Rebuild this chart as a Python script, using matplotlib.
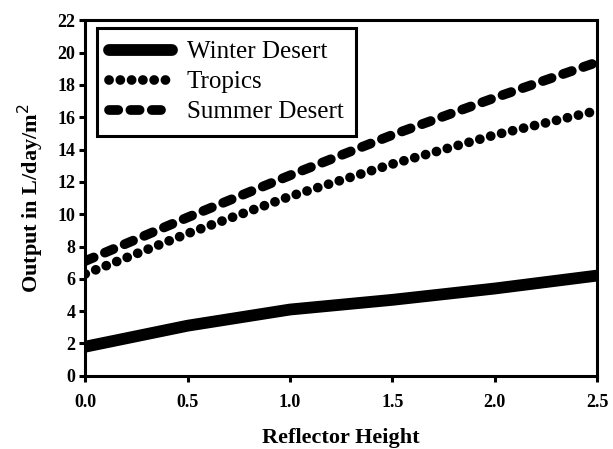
import matplotlib
matplotlib.use("Agg")
from matplotlib import pyplot as plt

heights = [0.0, 0.5, 1.0, 1.5, 2.0, 2.5]
winter_desert = [1.8, 3.1, 4.1, 4.7, 5.4, 6.2]
tropics = [6.3, 8.8, 11.1, 13.1, 14.9, 16.4]
summer_desert = [7.1, 9.8, 12.4, 14.9, 17.2, 19.4]

x_ticks = [0.0, 0.5, 1.0, 1.5, 2.0, 2.5]
y_ticks = list(range(0, 23, 2))

plt.rcParams['font.family'] = ['Liberation Serif', 'DejaVu Serif']

fig = plt.figure(figsize=(6.13, 4.49), dpi=100)
ax = fig.add_axes([0.139, 0.163, 0.835, 0.792])

ax.plot(heights, winter_desert, color='black', lw=8.5,
        solid_capstyle='round', label='Winter Desert')
ax.plot(heights, tropics, color='black', lw=7, linestyle=(0, (0.01, 1.15)),
        dash_capstyle='round', label='Tropics')
ax.plot(heights, summer_desert, color='black', lw=7, linestyle=(0, (0.95, 1.25)),
        dash_capstyle='round', label='Summer Desert')

ax.set_xlim(0, 2.5)
ax.set_ylim(0, 22)
ax.set_xticks(x_ticks)
ax.set_xticklabels([f"{v:.1f}" for v in x_ticks])
ax.set_yticks(y_ticks)

for s in ax.spines.values():
    s.set_linewidth(2.2)
ax.tick_params(direction='out', length=4, width=2.2, labelsize=13, pad=3)
for lab in ax.get_xticklabels() + ax.get_yticklabels():
    lab.set_fontweight('bold')
ax.tick_params(axis='x', pad=9)

ax.set_xlabel('Reflector Height', fontsize=16, fontweight='bold', labelpad=12)
ax.set_ylabel('Output in L/day/m$^2$', fontsize=16, fontweight='bold', labelpad=8)

leg = ax.legend(loc='upper left', bbox_to_anchor=(0.023, 0.977), borderaxespad=0,
                fontsize=18, frameon=True, fancybox=False,
                handlelength=2.5, labelspacing=0.3,
                handletextpad=0.6, borderpad=0.5)
leg.get_frame().set_edgecolor('black')
leg.get_frame().set_linewidth(2.2)
leg.get_frame().set_alpha(1)

fig.savefig('out.png', dpi=100)
